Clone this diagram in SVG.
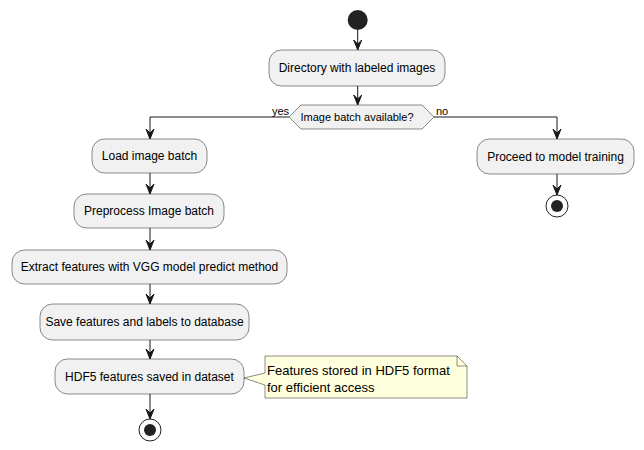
<svg xmlns="http://www.w3.org/2000/svg" width="644" height="450" viewBox="0 0 644 450">
<style>
.box{fill:#F1F1F1;stroke:#181818;stroke-width:0.5}
.t{font-family:"Liberation Sans",Arial,sans-serif;font-size:12px;fill:#000;text-anchor:middle}
.s{font-family:"Liberation Sans",Arial,sans-serif;font-size:11px;fill:#000}
.n{font-family:"Liberation Sans",Arial,sans-serif;font-size:13px;fill:#000}
.ln{fill:none;stroke:#181818;stroke-width:1}
.ah{fill:#181818;stroke:#181818;stroke-width:1}
</style>
<rect width="644" height="450" fill="#FFFFFF"/>
<g id="start"><circle cx="357.7" cy="20" r="10" fill="#222222"/></g>
<g id="directory"><rect class="box" x="269" y="50" width="176" height="36" rx="12.5"/><text class="t" x="357" y="72">Directory with labeled images</text></g>
<g id="decision"><polygon class="box" points="289,117 301,105 422,105 434,117 422,129 301,129"/><text class="s" x="357" y="121" text-anchor="middle">Image batch available?</text></g>
<g id="load"><rect class="box" x="92" y="139" width="115" height="34" rx="12.5"/><text class="t" x="149.5" y="160">Load image batch</text></g>
<g id="preprocess"><rect class="box" x="74" y="194" width="150" height="34" rx="12.5"/><text class="t" x="149" y="215">Preprocess Image batch</text></g>
<g id="extract"><rect class="box" x="12" y="250" width="275" height="34" rx="12.5"/><text class="t" x="149.5" y="271">Extract features with VGG model predict method</text></g>
<g id="save"><rect class="box" x="40" y="304" width="209" height="36" rx="12.5"/><text class="t" x="144.5" y="326">Save features and labels to database</text></g>
<g id="hdf5"><rect class="box" x="55" y="359" width="189" height="35" rx="12.5"/><text class="t" x="149.5" y="381">HDF5 features saved in dataset</text></g>
<g id="note"><path d="M265,356 L457,356 L467,366 L467,398 L265,398 L265,385 L244,378 L265,373 Z" fill="#FEFFDD" stroke="#181818" stroke-width="0.5"/><path d="M457,356 L457,366 L467,366" fill="none" stroke="#181818" stroke-width="0.5"/><text class="n" x="267" y="375">Features stored in HDF5 format</text><text class="n" x="267" y="392">for efficient access</text></g>
<g id="end1"><circle cx="150" cy="430" r="11" fill="none" stroke="#222222" stroke-width="1"/><circle cx="150" cy="430" r="6" fill="#222222"/></g>
<g id="proceed"><rect class="box" x="477" y="139" width="157" height="35" rx="12.5"/><text class="t" x="555.5" y="161">Proceed to model training</text></g>
<g id="end2"><circle cx="557" cy="206" r="11" fill="none" stroke="#222222" stroke-width="1"/><circle cx="557" cy="206" r="6" fill="#222222"/></g>
<g id="connectors">
<path class="ln" d="M357.7,30 L357.7,50"/><polygon class="ah" points="353.7,40 357.7,50 361.7,40 357.7,44"/>
<path class="ln" d="M357.7,86 L357.7,105"/><polygon class="ah" points="353.7,95 357.7,105 361.7,95 357.7,99"/>
<path class="ln" d="M289,117 L150,117 L150,139"/><polygon class="ah" points="146,129 150,139 154,129 150,133"/>
<path class="ln" d="M434,117 L557,117 L557,139"/><polygon class="ah" points="553,129 557,139 561,129 557,133"/>
<path class="ln" d="M150,173 L150,194"/><polygon class="ah" points="146,184 150,194 154,184 150,188"/>
<path class="ln" d="M150,228 L150,250"/><polygon class="ah" points="146,240 150,250 154,240 150,244"/>
<path class="ln" d="M150,284 L150,304"/><polygon class="ah" points="146,294 150,304 154,294 150,298"/>
<path class="ln" d="M150,340 L150,359"/><polygon class="ah" points="146,349 150,359 154,349 150,353"/>
<path class="ln" d="M150,394 L150,419"/><polygon class="ah" points="146,409 150,419 154,409 150,413"/>
<path class="ln" d="M557,174 L557,195"/><polygon class="ah" points="553,185 557,195 561,185 557,189"/>
<text class="s" x="272" y="115">yes</text>
<text class="s" x="436" y="115">no</text>
</g>
</svg>
